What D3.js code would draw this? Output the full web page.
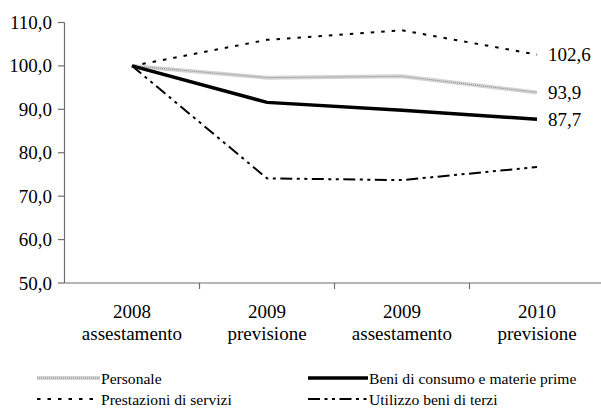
<!DOCTYPE html>
<html><head><meta charset="utf-8">
<script src="https://cdn.jsdelivr.net/npm/d3@7/dist/d3.min.js"></script></head>
<body style="margin:0">
<svg id="chart" width="601" height="412"></svg>
<script>
// Categories (two-line labels) and index values (2008 = 100)
const categories = ["2008 assestamento", "2009 previsione", "2009 assestamento", "2010 previsione"];
const categoryLines = [["2008", "assestamento"], ["2009", "previsione"], ["2009", "assestamento"], ["2010", "previsione"]];
const yTicks = [50, 60, 70, 80, 90, 100, 110];

const personale    = [100, 97.3, 97.6, 93.9];
const beniConsumo  = [100, 91.6, 89.8, 87.7];
const prestazioni  = [100, 106.0, 108.2, 102.6];
const utilizzoBeni = [100, 74.1, 73.7, 76.7];

const seriesNames = ["Personale", "Beni di consumo e materie prime", "Prestazioni di servizi", "Utilizzo beni di terzi"];

const fmt = v => v.toFixed(1).replace(".", ",");

const svg = d3.select("#chart");
const axisColor = "#6e6e6e";

const x = d3.scaleBand().domain(categories).range([64.5, 604.5]).padding(0);
const cx = c => x(c) + x.bandwidth() / 2;
const y = d3.scaleLinear().domain([50, 110]).range([283, 22.5]);

const addText = (size, str, px, py, anchor) => svg.append("text")
  .attr("x", px).attr("y", py).attr("font-size", size)
  .attr("text-anchor", anchor || "start")
  .style("font-family", `"Liberation Serif"`)
  .text(str);

// Y axis
svg.append("line").attr("x1", 64.5).attr("x2", 64.5).attr("y1", y(110)).attr("y2", y(50))
  .attr("stroke", axisColor).attr("stroke-width", 1.2);
yTicks.forEach(t => {
  svg.append("line").attr("x1", 58).attr("x2", 64.5).attr("y1", y(t)).attr("y2", y(t))
    .attr("stroke", axisColor).attr("stroke-width", 1.2);
  addText(19, fmt(t), 52, y(t) + 6.5, "end");
});

// X axis with ticks at category boundaries
svg.append("line").attr("x1", 64.5).attr("x2", 604.5).attr("y1", y(50)).attr("y2", y(50))
  .attr("stroke", axisColor).attr("stroke-width", 1.2);
categories.forEach((c, i) => {
  const bx = x(c) + x.bandwidth();
  svg.append("line").attr("x1", bx).attr("x2", bx).attr("y1", y(50)).attr("y2", y(50) + 6)
    .attr("stroke", axisColor).attr("stroke-width", 1.2);
  addText(19, categoryLines[i][0], cx(c), 318, "middle");
  addText(19, categoryLines[i][1], cx(c), 340, "middle");
});

const line = d3.line().x((d, i) => cx(categories[i])).y(d => y(d));

// "Personale" is a light textured band: a grey base with a fine dotted overlay
const styles = [
  { data: personale,    layers: [{ c: "#d4d4d4", w: 4, d: null }, { c: "#8c8c8c", w: 1, d: "1,1" }] },
  { data: beniConsumo,  layers: [{ c: "#000", w: 3.5, d: null }] },
  { data: prestazioni,  layers: [{ c: "#000", w: 2, d: "3.5,7" }] },
  { data: utilizzoBeni, layers: [{ c: "#000", w: 2, d: "12,4.5,3,4.5,3,4.5" }] }
];

[3, 2, 0, 1].forEach(k => {
  styles[k].layers.forEach(L => {
    svg.append("path").datum(styles[k].data).attr("d", line)
      .attr("fill", "none").attr("stroke", L.c).attr("stroke-width", L.w)
      .attr("stroke-dasharray", L.d);
  });
});

// Value labels at the last point
[0, 1, 2].forEach(k => {
  const v = styles[k].data[3];
  addText(19, fmt(v), cx(categories[3]) + 11, y(v) + 6.5);
});

// Legend
const legend = [
  { k: 0, x0: 37,  x1: 100, ly: 378, tx: 101, ty: 383.5 },
  { k: 1, x0: 308, x1: 368, ly: 378, tx: 369, ty: 383.5 },
  { k: 2, x0: 37,  x1: 100, ly: 399, tx: 101, ty: 404.5 },
  { k: 3, x0: 308, x1: 368, ly: 399, tx: 369, ty: 404.5 }
];
legend.forEach(l => {
  styles[l.k].layers.forEach(L => {
    svg.append("line").attr("x1", l.x0).attr("x2", l.x1).attr("y1", l.ly).attr("y2", l.ly)
      .attr("stroke", L.c).attr("stroke-width", L.w).attr("stroke-dasharray", L.d);
  });
  addText(15.6, seriesNames[l.k], l.tx, l.ty);
});
</script></body></html>
